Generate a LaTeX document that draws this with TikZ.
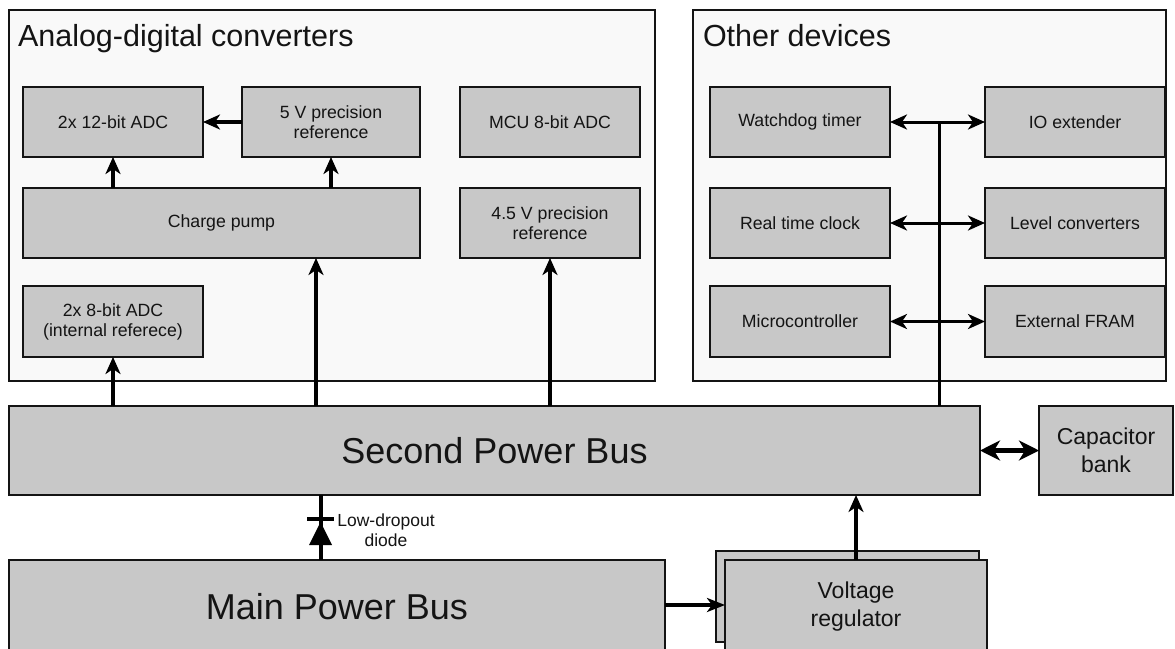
\documentclass[tikz,border=0pt]{standalone}
\usepackage{fontspec}
\setmainfont{Liberation Sans}
\usetikzlibrary{arrows.meta}
\definecolor{boxfill}{HTML}{C8C8C8}
\definecolor{grpfill}{HTML}{F9F9F9}
\definecolor{ink}{HTML}{141414}
\begin{document}
\begin{tikzpicture}[x=1pt,y=-1pt,
  every node/.style={inner sep=0pt, outer sep=0pt, text=ink},
  group/.style={draw=ink, line width=1.4pt, fill=grpfill, minimum width=#1},
  unit/.style={draw=ink, line width=1.4pt, fill=boxfill, align=center,
    font=\fontsize{17.7}{20}\selectfont},
  busbox/.style={draw=ink, line width=1.4pt, fill=boxfill, align=center,
    font=\fontsize{36}{40}\selectfont},
  midbox/.style={draw=ink, line width=1.4pt, fill=boxfill, align=center,
    font=\fontsize{23}{28}\selectfont},
  title/.style={anchor=base west, font=\fontsize{30.5}{34}\selectfont},
  feed/.style={line width=3.5pt, draw=black,
    -{Stealth[length=17pt, width=15pt, inset=5pt]}},
  link/.style={line width=3pt, draw=black,
    {Stealth[length=17pt, width=15pt, inset=5pt]}-{Stealth[length=17pt, width=15pt, inset=5pt]}},
  fatlink/.style={line width=5pt, draw=black,
    {Stealth[length=20pt, width=20pt, inset=6pt]}-{Stealth[length=20pt, width=20pt, inset=6pt]}},
  trunk/.style={line width=3pt, draw=black},
]
\useasboundingbox (0,0) rectangle (1175,648);
\clip (0,0) rectangle (1175,648);
\fill[white] (0,0) rectangle (1175,648);

% group frames
\node[group=646pt, minimum height=371pt] (grpA) at (332,195.5) {};
\node[group=473pt, minimum height=371pt] (grpB) at (929.5,195.5) {};
\node[title] (tA) at (18,46) {Analog-digital converters};
\node[title] (tB) at (703,46) {Other devices};

% converter blocks
\node[unit, minimum width=180pt, minimum height=70pt] (adc12) at (113,122) {2x 12-bit ADC};
\node[unit, minimum width=178pt, minimum height=70pt] (ref5) at (331,122) {5 V precision\\reference};
\node[unit, minimum width=180pt, minimum height=70pt] (mcuadc) at (550,122) {MCU 8-bit ADC};
\node[unit, minimum width=397pt, minimum height=70pt] (pump) at (221.5,223) {Charge pump};
\node[unit, minimum width=180pt, minimum height=70pt] (ref45) at (550,223) {4.5 V precision\\reference};
\node[unit, minimum width=180pt, minimum height=71pt] (adc8) at (113,321.5) {2x 8-bit ADC\\(internal referece)};

% other devices
\node[unit, minimum width=180pt, minimum height=70pt] (wdt) at (800,122) {Watchdog timer};
\node[unit, minimum width=180pt, minimum height=70pt] (ioext) at (1075,122) {IO extender};
\node[unit, minimum width=180pt, minimum height=70pt] (rtc) at (800,223) {Real time clock};
\node[unit, minimum width=180pt, minimum height=70pt] (lvl) at (1075,223) {Level converters};
\node[unit, minimum width=180pt, minimum height=71pt] (mcu) at (800,321.5) {Microcontroller};
\node[unit, minimum width=180pt, minimum height=71pt] (fram) at (1075,321.5) {External FRAM};

% power buses
\node[busbox, minimum width=971pt, minimum height=89pt] (bus2) at (494.5,450.5) {Second Power Bus};
\node[midbox, minimum width=134pt, minimum height=89pt] (cap) at (1106,450.5) {Capacitor\\bank};
\node[busbox, minimum width=656pt, minimum height=94pt] (bus1) at (337,607) {Main Power Bus};
\node[midbox, minimum width=263pt, minimum height=91pt] (regback) at (847.5,596.5) {};
\node[midbox, minimum width=262pt, minimum height=94pt] (reg) at (856,607) {Voltage\\regulator};

% taps on the second bus
\coordinate (tapP) at (316,0);
\coordinate (tapT) at (939,122);
\coordinate (tapD) at (320.5,0);
\coordinate (tapR) at (0,605);

\draw[feed] (ref5.west) -- (adc12.east);
\draw[feed] (pump.north -| adc12) -- (adc12.south);
\draw[feed] (pump.north -| ref5) -- (ref5.south);
\draw[feed] (bus2.north -| adc8) -- (adc8.south);
\draw[feed] (bus2.north -| tapP) -- (pump.south -| tapP);
\draw[feed] (bus2.north -| ref45) -- (ref45.south);

\draw[trunk] (bus2.north -| tapT) -- (tapT);
\draw[link] (wdt.east) -- (ioext.west);
\draw[link] (rtc.east) -- (lvl.west);
\draw[link] (mcu.east) -- (fram.west);

\draw[fatlink] (bus2.east) -- (cap.west);

\draw[feed, -{Stealth[length=18pt, width=14pt, inset=5pt]}] (bus1.east |- tapR) -- (reg.west |- tapR);
\draw[feed] (reg.north) -- (reg.north |- bus2.south);

% low-dropout diode between the buses
\draw[line width=4pt] (bus1.north -| tapD) -- (bus2.south -| tapD);
\fill[black] (309,545) -- (332,545) -- (320.5,522) -- cycle;
\draw[line width=4pt] (307,519) -- (334,519);
\node[align=center, font=\fontsize{17.5}{20}\selectfont] (dlabel) at (386,530) {Low-dropout\\diode};
\end{tikzpicture}
\end{document}
